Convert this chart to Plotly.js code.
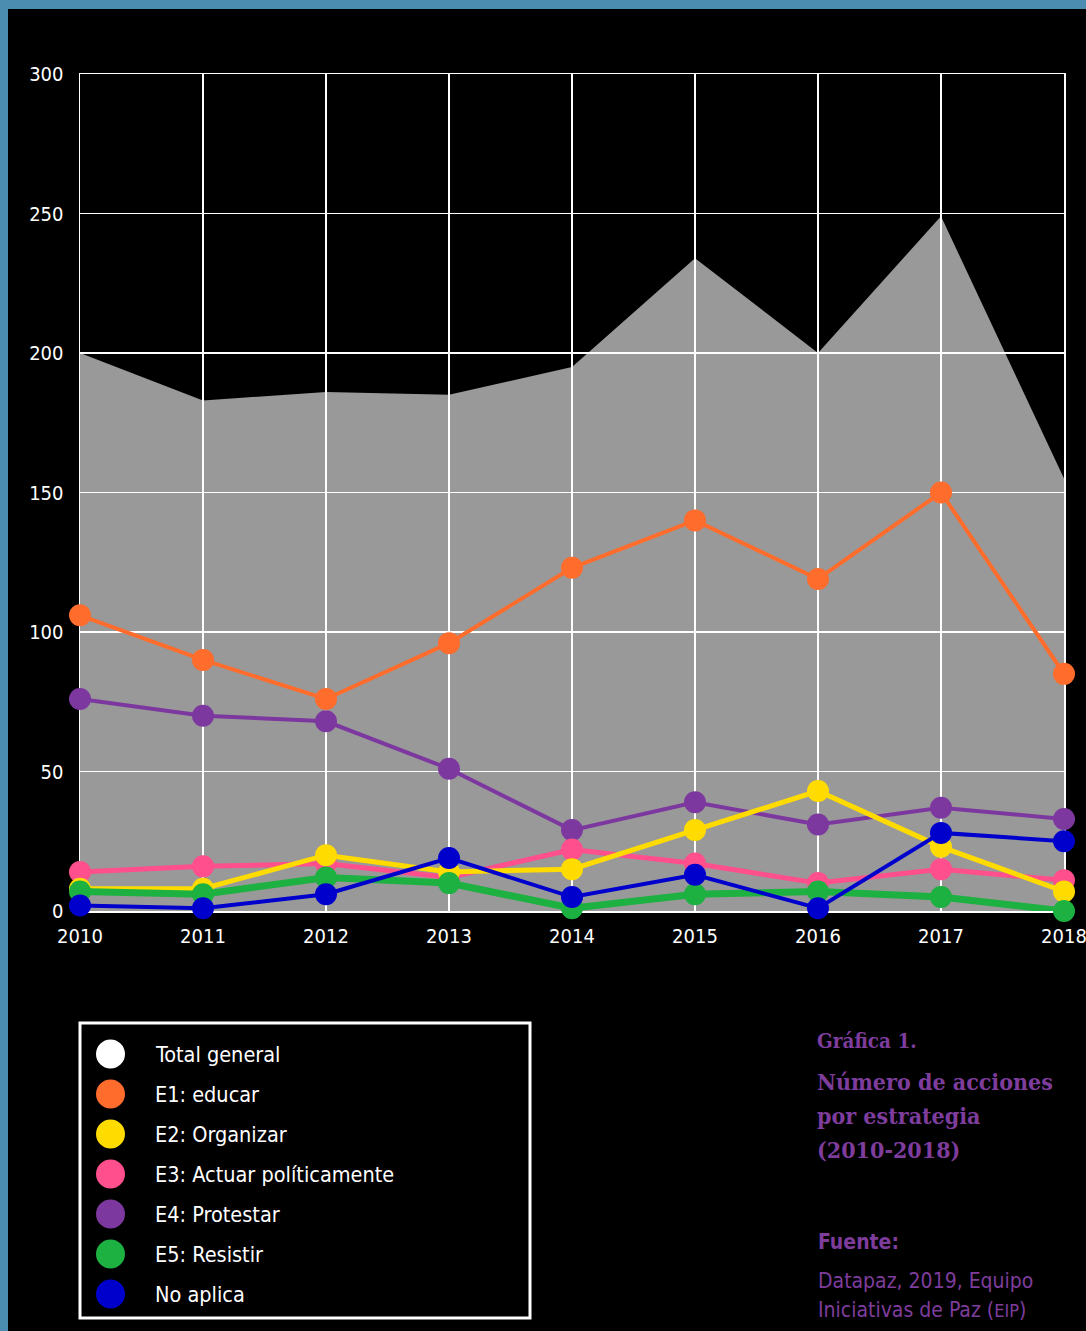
<!DOCTYPE html>
<html>
<head>
<meta charset="utf-8">
<script src="https://cdn.plot.ly/plotly-3.0.1.min.js"></script>
<style>
  html, body { margin: 0; padding: 0; background: #4b8db0; width: 1086px; height: 1331px; overflow: hidden; }
  #chart { position: absolute; left: 8px; top: 9px; width: 1078px; height: 1322px; background: #000; }
</style>
</head>
<body>
<div id="chart"></div>
<script>
// ---- data ----
const years = [2010, 2011, 2012, 2013, 2014, 2015, 2016, 2017, 2018];
const totalGeneral = [200, 183, 186, 185, 195, 234, 200, 249, 155];
const e1Educar = [106, 90, 76, 96, 123, 140, 119, 150, 85];
const e2Organizar = [8, 8, 20, 14, 15, 29, 43, 23, 7];
const e3Actuar = [14, 16, 17, 12, 22, 17, 10, 15, 11];
const e4Protestar = [76, 70, 68, 51, 29, 39, 31, 37, 33];
const e5Resistir = [7, 6, 12, 10, 1, 6, 7, 5, 0];
const noAplica = [2, 1, 6, 19, 5, 13, 1, 28, 25];
const seriesNames = ["Total general", "E1: educar", "E2: Organizar", "E3: Actuar políticamente", "E4: Protestar", "E5: Resistir", "No aplica"];
const seriesColors = ["#ffffff", "#ff6c2c", "#ffdb00", "#ff4f8c", "#7d38a0", "#1cb140", "#0000cd"];
const yTicks = [0, 50, 100, 150, 200, 250, 300];

// ---- geometry helpers (page pixels -> paper coords) ----
const DIV_X = 8, DIV_Y = 9;
const M = { l: 72, r: 22, t: 65, b: 420 };
const PW = 1078 - M.l - M.r, PH = 1322 - M.t - M.b;
const px = x => (x - DIV_X - M.l) / PW;
const py = y => (PH - (y - DIV_Y - M.t)) / PH;

const sansFont = '"DejaVu Sans Condensed", "Liberation Sans Narrow", "Roboto Condensed", Roboto, sans-serif';
const serifFont = '"DejaVu Serif Condensed", "DejaVu Serif", serif';
const purple = '#7e3d9c';

function lineTrace(y, idx, w) {
  return {
    x: years, y: y, type: 'scatter', mode: 'lines+markers', name: seriesNames[idx],
    line: { color: seriesColors[idx], width: w },
    marker: { color: seriesColors[idx], size: 22 },
    cliponaxis: false, showlegend: false, hoverinfo: 'x+y+name'
  };
}

const traces = [
  lineTrace(e1Educar, 1, 4),
  lineTrace(e4Protestar, 4, 4),
  lineTrace(e3Actuar, 3, 5),
  lineTrace(e2Organizar, 2, 5),
  lineTrace(e5Resistir, 5, 7),
  lineTrace(noAplica, 6, 4)
];

// total area as a path in data coordinates, below gridlines
let areaPath = 'M ' + years[0] + ',0';
years.forEach((yr, i) => { areaPath += ' L ' + yr + ',' + totalGeneral[i]; });
areaPath += ' L ' + years[years.length - 1] + ',0 Z';

const shapes = [{
  type: 'path', xref: 'x', yref: 'y', path: areaPath, layer: 'below',
  fillcolor: '#999999', line: { width: 0 }
}];

// legend box
shapes.push({
  type: 'rect', xref: 'paper', yref: 'paper',
  x0: px(80), x1: px(530), y0: py(1023), y1: py(1318),
  line: { color: '#ffffff', width: 3 }, fillcolor: 'rgba(0,0,0,0)'
});

const annotations = [];
seriesNames.forEach((n, i) => {
  const cy = 1054 + 40 * i;
  shapes.push({
    type: 'circle', xref: 'paper', yref: 'paper',
    x0: px(96), x1: px(125), y0: py(cy + 14.5), y1: py(cy - 14.5),
    fillcolor: seriesColors[i], line: { width: 0 }
  });
  annotations.push({
    xref: 'paper', yref: 'paper', x: px(153), y: py(cy), xanchor: 'left', yanchor: 'middle',
    text: n, showarrow: false, font: { family: sansFont, size: 21.5, color: '#ffffff' }
  });
});

// right-side caption
function note(text, x, y, family, size, weight) {
  annotations.push({
    xref: 'paper', yref: 'paper', x: px(x), y: py(y), xanchor: 'left', yanchor: 'middle',
    text: text, showarrow: false, font: { family: family, size: size, color: purple, weight: weight }
  });
}
note('Gráfica 1.', 815, 1041, serifFont, 20.5, 700);
note('Número de acciones', 815, 1081, serifFont, 23, 700);
note('por estrategia', 815, 1115, serifFont, 23, 700);
note('(2010-2018)', 815, 1149, serifFont, 23, 700);
note('Fuente:', 816, 1242, sansFont, 21, 700);
note('Datapaz, 2019, Equipo', 816, 1281, sansFont, 21, 400);
note('Iniciativas de Paz (<span style="font-size:18px">EIP</span>)', 816, 1310, sansFont, 21, 400);

const axisCommon = {
  showgrid: true, gridcolor: '#ffffff', gridwidth: 1.5,
  showline: true, mirror: true, linecolor: '#ffffff', linewidth: 1.5,
  layer: 'below traces', ticks: '', ticklabeloverflow: 'allow'
};

const layout = {
  width: 1078, height: 1322,
  margin: M,
  paper_bgcolor: '#000000', plot_bgcolor: '#000000',
  showlegend: false,
  xaxis: Object.assign({}, axisCommon, {
    range: [2010, 2018], tickvals: years, ticktext: years.map(String),
    zeroline: false, ticklabelstandoff: 6,
    tickfont: { family: sansFont, size: 20, color: '#ffffff' }
  }),
  yaxis: Object.assign({}, axisCommon, {
    range: [0, 300], tickvals: yTicks,
    zeroline: false, ticklabelstandoff: 11,
    tickfont: { family: sansFont, size: 20, color: '#ffffff' }
  }),
  shapes: shapes,
  annotations: annotations
};

Plotly.newPlot('chart', traces, layout, { displayModeBar: false, staticPlot: true });
</script>
</body>
</html>
